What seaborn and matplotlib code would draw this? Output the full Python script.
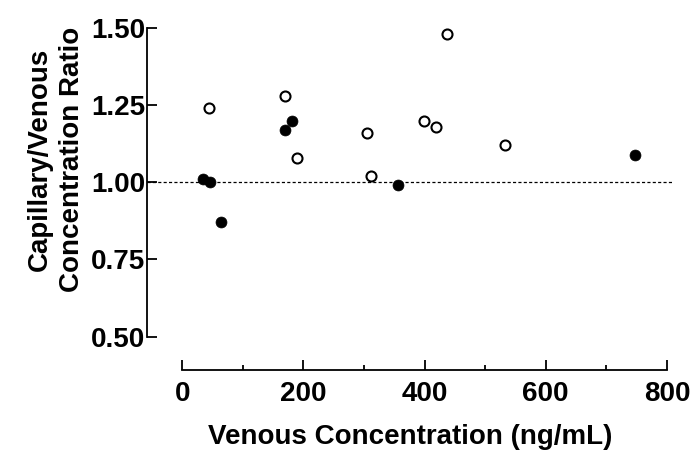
import pandas as pd
import matplotlib.pyplot as plt
import seaborn as sns
from matplotlib.ticker import MultipleLocator

# open circles
x_open = [45, 170, 190, 305, 311, 399, 419, 437, 532]
y_open = [1.24, 1.28, 1.08, 1.16, 1.02, 1.20, 1.18, 1.48, 1.12]

# filled circles
x_filled = [34, 46, 64, 170, 182, 356, 747]
y_filled = [1.01, 1.00, 0.87, 1.17, 1.20, 0.99, 1.09]

df_open = pd.DataFrame({"venous": x_open, "ratio": y_open})
df_filled = pd.DataFrame({"venous": x_filled, "ratio": y_filled})

sns.set_theme(style="ticks")
plt.rcParams["font.family"] = ["Liberation Sans", "DejaVu Sans"]
plt.rcParams["font.weight"] = "bold"
plt.rcParams["text.color"] = "black"
plt.rcParams["axes.labelcolor"] = "black"
plt.rcParams["xtick.direction"] = "in"
plt.rcParams["ytick.direction"] = "in"

fig = plt.figure(figsize=(6.93, 4.5), dpi=100)
ax = fig.add_axes([0.2121, 0.1778, 0.759, 0.7944])

ax.axhline(1.0, color="black", lw=0.9, ls=(0, (2.5, 1.8)), zorder=1)

sns.scatterplot(data=df_open, x="venous", y="ratio", ax=ax, s=52,
                facecolor="white", edgecolor="black", linewidth=1.5, zorder=3)
sns.scatterplot(data=df_filled, x="venous", y="ratio", ax=ax, s=62,
                color="black", edgecolor="black", linewidth=0.5, zorder=3)

ax.set_xlim(-58, 810)
ax.set_ylim(0.392, 1.55)
ax.set_xticks([0, 200, 400, 600, 800])
ax.xaxis.set_minor_locator(MultipleLocator(100))
ax.set_yticks([0.50, 0.75, 1.00, 1.25, 1.50])
ax.set_yticklabels(["0.50", "0.75", "1.00", "1.25", "1.50"])

sns.despine(ax=ax)
ax.spines["left"].set_bounds(0.5, 1.5)
ax.spines["bottom"].set_bounds(0, 800)
for sp in ["left", "bottom"]:
    ax.spines[sp].set_linewidth(1.3)
    ax.spines[sp].set_color("black")

ax.tick_params(axis="both", which="major", direction="in", length=7,
               width=1.3, labelsize=20, color="black", labelcolor="black")
ax.tick_params(axis="y", pad=1.5)
ax.tick_params(axis="x", pad=8)
ax.tick_params(axis="x", which="minor", direction="in", length=3.5, width=1.3, color="black")
for lab in ax.get_xticklabels() + ax.get_yticklabels():
    lab.set_fontweight("bold")

ax.set_xlabel("Venous Concentration (ng/mL)", fontsize=20, fontweight="bold",
              labelpad=12, color="black")
ax.set_ylabel("Capillary/Venous\nConcentration Ratio", fontsize=20, fontweight="bold",
              linespacing=1.3, color="black")
ax.yaxis.set_label_coords(-0.118, 0.59)

fig.savefig("out.png", dpi=100)
